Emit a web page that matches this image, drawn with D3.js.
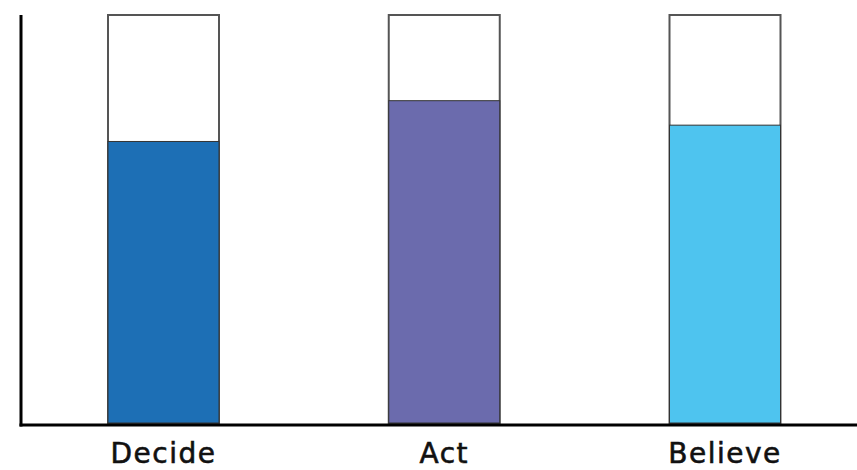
<!DOCTYPE html>
<html>
<head>
<meta charset="utf-8">
<script src="https://cdn.jsdelivr.net/npm/d3@7"></script>
<style>
  html, body { margin: 0; padding: 0; background: #ffffff; }
  svg { display: block; }
</style>
</head>
<body>
<div id="chart"></div>
<script>
const categories = ["Decide", "Act", "Believe"];
const values = [69, 79, 73];
const maxValues = [100, 100, 100];
const colors = ["#1d6fb5", "#6b6bad", "#4ec4ef"];

const W = 857, H = 470;
const svg = d3.select("#chart").append("svg").attr("width", W).attr("height", H);

const axisX = 21, axisY = 425;

const x = d3.scalePoint().domain(categories).range([163.5, 725]);
const bw = 111;
const y = d3.scaleLinear().domain([0, 100]).range([423, 15]);

// outline boxes
svg.selectAll("rect.box").data(categories).enter().append("rect")
  .attr("class", "box")
  .attr("x", d => x(d) - bw / 2)
  .attr("y", (d, i) => y(maxValues[i]))
  .attr("width", bw)
  .attr("height", (d, i) => y(0) - y(maxValues[i]))
  .attr("fill", "#ffffff")
  .attr("stroke", "#555555")
  .attr("stroke-width", 2);

// fills
svg.selectAll("rect.fill").data(categories).enter().append("rect")
  .attr("class", "fill")
  .attr("x", d => x(d) - bw / 2)
  .attr("y", (d, i) => y(values[i]))
  .attr("width", bw)
  .attr("height", (d, i) => y(0) - y(values[i]))
  .attr("fill", (d, i) => colors[i])
  .attr("stroke", "#333")
  .attr("stroke-width", 1);

// axes
svg.append("line").attr("x1", axisX).attr("x2", axisX).attr("y1", 15).attr("y2", axisY + 1.5)
  .attr("stroke", "#000").attr("stroke-width", 3);
svg.append("line").attr("x1", axisX - 1.5).attr("x2", W).attr("y1", axisY).attr("y2", axisY)
  .attr("stroke", "#000").attr("stroke-width", 3);

// labels
svg.selectAll("text.lab").data(categories).enter().append("text")
  .attr("class", "lab")
  .attr("x", d => x(d))
  .attr("y", 463)
  .attr("text-anchor", "middle")
  .attr("font-family", "'DejaVu Sans', sans-serif")
  .attr("font-size", 28)
  .attr("letter-spacing", 1.5)
  .attr("fill", "#111")
  .attr("stroke", "#111")
  .attr("stroke-width", 0.6)
  .text(d => d);
</script>
</body>
</html>
